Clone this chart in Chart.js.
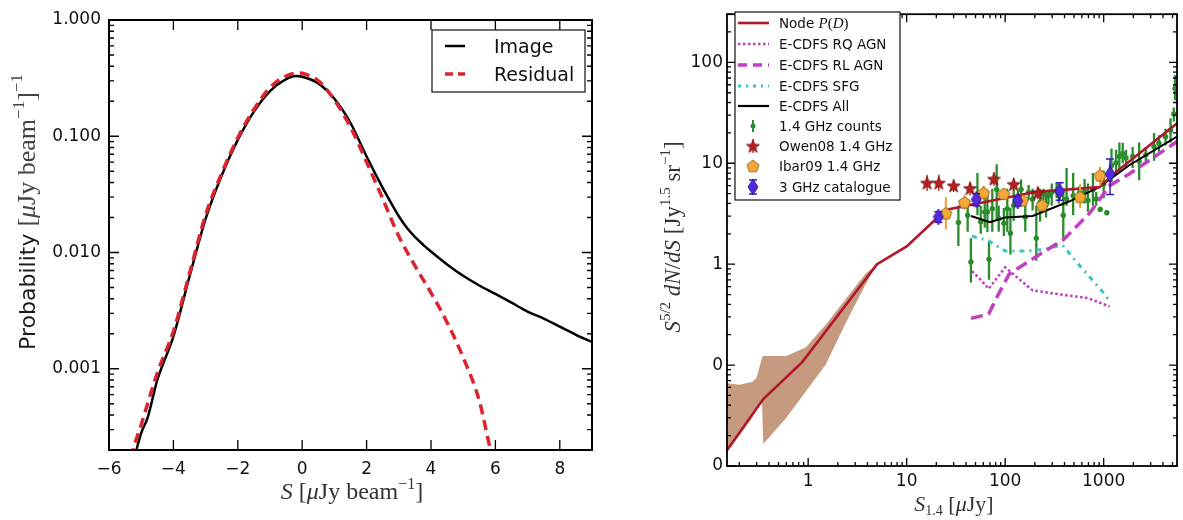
<!DOCTYPE html>
<html>
<head>
<meta charset="utf-8">
<script src="https://cdn.jsdelivr.net/npm/chart.js@4.4.1/dist/chart.umd.min.js"></script>
<style>
  body { margin: 0; background: #fff; width: 1183px; height: 520px; position: relative; overflow: hidden; }
  #left { position: absolute; left: 0; top: 0; }
  #right { position: absolute; left: 600px; top: 0; }
</style>
</head>
<body>
<canvas id="left" width="600" height="520"></canvas>
<canvas id="right" width="583" height="520"></canvas>
<script>
// ---------- left panel: P(D) of image and residual ----------
const leftXTicks = [-6, -4, -2, 0, 2, 4, 6, 8];
const leftYTicks = [0.001, 0.01, 0.1, 1];

const imgS = [-5.25, -5.15, -5.0, -4.8, -4.5, -4.0, -3.5, -3.0, -2.5, -2.0, -1.5, -1.0, -0.5, -0.2, 0.0, 0.5, 1.0, 1.5, 2.0, 2.5, 2.75, 3.0, 3.25, 3.5, 3.75, 4.0, 4.5, 5.0, 5.5, 6.0, 6.5, 7.0, 7.5, 8.0, 8.3, 8.6, 9.0];
const imgP = [0.00016, 0.0002, 0.00028, 0.00038, 0.0008, 0.0019, 0.0062, 0.0195, 0.046, 0.093, 0.163, 0.245, 0.31, 0.33, 0.325, 0.285, 0.21, 0.13, 0.067, 0.036, 0.027, 0.0205, 0.0163, 0.0136, 0.0117, 0.0102, 0.0079, 0.0063, 0.0052, 0.0044, 0.0037, 0.0031, 0.0027, 0.0023, 0.0021, 0.0019, 0.0017];

const resS = [-5.3, -5.25, -5.0, -4.5, -4.0, -3.5, -3.0, -2.5, -2.0, -1.5, -1.0, -0.5, -0.1, 0.0, 0.5, 1.0, 1.5, 2.0, 2.5, 3.0, 3.5, 4.0, 4.5, 5.0, 5.5, 5.85, 5.9];
const resP = [0.00017, 0.0002, 0.00033, 0.00092, 0.0021, 0.0066, 0.021, 0.048, 0.097, 0.17, 0.262, 0.33, 0.35, 0.348, 0.30, 0.205, 0.12, 0.060, 0.029, 0.0138, 0.0077, 0.0045, 0.0025, 0.00125, 0.00053, 0.0002, 0.00018];

// ---------- right panel: Euclidean-normalised source counts ----------
const rightXTicks = [1, 10, 100, 1000];
const rightYTicks = [0.01, 0.1, 1, 10, 100];
const rightYLabels = ['0', '0', '1', '10', '100'];

const nodeS = [0.15, 0.35, 0.87, 5.0, 10, 21, 27, 200, 900, 1300, 5600];
const nodeV = [0.0143, 0.046, 0.107, 1.0, 1.5, 2.95, 3.5, 5.2, 5.8, 8.0, 25];

const bandS  = [0.15, 0.2, 0.27, 0.3, 0.34, 0.35, 0.6, 0.95, 1.5, 2.4, 3.8, 5.0];
const bandHi = [0.066, 0.064, 0.068, 0.075, 0.118, 0.123, 0.123, 0.15, 0.25, 0.45, 0.80, 1.0];
const bandLo = [0.0138, 0.020, 0.030, 0.036, 0.043, 0.0165, 0.030, 0.055, 0.10, 0.26, 0.62, 1.0];

const rqS = [46, 55, 68, 80, 100, 130, 190, 370, 700, 1150];
const rqV = [0.85, 0.72, 0.57, 0.70, 0.93, 0.75, 0.55, 0.50, 0.46, 0.38];
const rlS = [45, 68, 85, 110, 210, 390, 720, 1150, 1800, 5600];
const rlV = [0.29, 0.32, 0.5, 0.8, 1.2, 1.75, 3.2, 6.0, 7.8, 16.5];
const sfgS = [46, 68, 100, 160, 250, 380, 580, 950, 1150];
const sfgV = [1.9, 1.7, 1.35, 1.35, 1.4, 1.55, 0.95, 0.55, 0.43];
const allS = [45, 70, 100, 190, 450, 900, 1800, 5600];
const allV = [3.0, 2.6, 2.9, 3.0, 4.2, 5.8, 9.5, 18.5];

const countsS  = [33.5, 41.6, 44.9, 52.3, 56.5, 62, 66, 68.5, 74, 82, 86, 97, 105, 113, 122, 135, 145, 160, 173, 190, 207, 226, 245, 260, 275, 297, 333, 350, 389, 420, 490, 571, 640, 693, 778, 840, 922, 1000, 1076, 1200, 1336, 1443, 1560, 1686, 1967, 2292, 2678, 3245, 3641, 4248, 4770, 5150, 5300];
const countsV  = [2.59, 3.05, 1.05, 4.1, 2.63, 3.29, 3.29, 1.12, 3.55, 5.5, 2.84, 2.54, 3.55, 2.03, 3.82, 4.6, 5.5, 2.94, 5.15, 4.4, 1.81, 4.1, 4.96, 3.9, 4.77, 5.15, 5.35, 4.9, 3.05, 4.43, 4.77, 5.15, 5.2, 4.28, 5.5, 4.43, 3.49, 6.2, 3.24, 9.5, 10.1, 11.7, 12.5, 11.3, 11.7, 10.5, 12.1, 14.6, 15.8, 18.3, 21.2, 30.8, 55];
const countsLo = [1.51, 2.1, 0.66, 3.05, 2.0, 2.3, 2.08, 0.7, 2.1, 2.7, 2.1, 1.9, 2.1, 1.25, 2.7, 3.9, 3.8, 2.1, 4.3, 3.4, 1.08, 2.63, 4.3, 2.9, 3.9, 3.8, 4.5, 4.0, 1.7, 3.8, 3.05, 4.4, 4.0, 3.3, 3.8, 3.8, 3.3, 4.5, 3.05, 6.5, 7.7, 8.7, 10, 9.0, 9.0, 6.8, 10.5, 10.6, 13, 15, 16, 26, 42];
const countsHi = [3.82, 4.4, 1.81, 8.0, 3.8, 4.6, 4.9, 1.7, 5.6, 9.8, 3.8, 3.6, 5.6, 3.6, 5.5, 5.4, 6.9, 3.8, 6.1, 5.6, 3.8, 5.6, 5.6, 5.3, 5.5, 6.3, 6.4, 6.2, 5.5, 9.0, 8.0, 6.0, 7.0, 6.3, 8.0, 5.2, 3.7, 8.5, 3.45, 14, 13.6, 16.1, 16, 13.5, 14.5, 16.1, 14.5, 20, 19, 22, 28, 35.7, 75];

const owenS  = [16.1, 21.2, 30, 44, 77, 122, 215];
const owenV  = [6.4, 6.4, 6.0, 5.65, 7.0, 6.2, 5.1];
const owenLo = [5.3, 5.3, 5.2, 4.8, 6.0, 5.3, 4.4];
const owenHi = [7.7, 7.7, 6.9, 6.6, 8.2, 7.2, 5.9];

const ibarS  = [25, 38.7, 60.5, 96.6, 150, 237, 577, 918];
const ibarV  = [3.2, 4.1, 5.1, 5.0, 4.3, 3.85, 4.65, 7.6];
const ibarLo = [2.2, 3.5, 4.3, 4.5, 3.9, 3.5, 3.6, 6.0];
const ibarHi = [4.6, 4.9, 6.0, 5.6, 4.8, 4.3, 6.2, 9.3];

const ghz3S  = [21, 50.8, 134, 357, 1160];
const ghz3V  = [2.94, 4.37, 4.23, 5.28, 7.8];
const ghz3Lo = [2.6, 3.8, 3.8, 4.3, 4.9];
const ghz3Hi = [3.3, 5.0, 4.7, 6.4, 11];

// ---------- shared styling ----------
const SANS = '"DejaVu Sans", sans-serif';
const SERIF = '"Liberation Serif", "DejaVu Serif", serif';
const RED = '#dc2430';
const NODE = '#b0162c';
const MAG = '#c23ec2';
const CYAN = '#3cc4c4';
const GREEN = '#2a8c2a';
const BAND = '#c69a7e';

const zip = (xs, ys) => xs.map((x, i) => ({ x, y: ys[i] }));

function markerCanvas(w, h, draw) {
  const c = document.createElement('canvas');
  c.width = w; c.height = h;
  draw(c.getContext('2d'), w, h);
  return c;
}

const starImg = markerCanvas(15, 15, (g, w, h) => {
  g.beginPath();
  for (let i = 0; i < 10; i++) {
    const r = i % 2 ? 2.9 : 6.9;
    const a = -Math.PI / 2 + i * Math.PI / 5;
    g.lineTo(w / 2 + r * Math.cos(a), h / 2 + 0.7 + r * Math.sin(a));
  }
  g.closePath();
  g.fillStyle = '#b81f1f'; g.fill();
  g.strokeStyle = '#6e0c0c'; g.lineWidth = 0.8; g.stroke();
});

const pentImg = markerCanvas(15, 15, (g, w, h) => {
  g.beginPath();
  for (let i = 0; i < 5; i++) {
    const a = -Math.PI / 2 + i * 2 * Math.PI / 5;
    g.lineTo(w / 2 + 6.3 * Math.cos(a), h / 2 + 0.6 + 6.3 * Math.sin(a));
  }
  g.closePath();
  g.fillStyle = '#f5a836'; g.fill();
  g.strokeStyle = '#7a5212'; g.lineWidth = 0.8; g.stroke();
});

const diamImg = markerCanvas(12, 18, (g, w, h) => {
  g.beginPath();
  g.moveTo(w / 2, 1); g.lineTo(w - 1, h / 2); g.lineTo(w / 2, h - 1); g.lineTo(1, h / 2);
  g.closePath();
  g.fillStyle = '#5427e0'; g.fill();
  g.strokeStyle = '#250c88'; g.lineWidth = 0.8; g.stroke();
});

function logMinors(min, max) {
  const out = [];
  for (let d = Math.floor(Math.log10(min)); d <= Math.ceil(Math.log10(max)); d++) {
    for (let m = 2; m <= 9; m++) {
      const v = m * Math.pow(10, d);
      if (v >= min && v <= max) out.push(v);
    }
  }
  return out;
}

function drawRich(ctx, segs, x, y, angle, align, color) {
  ctx.save();
  ctx.translate(x, y);
  ctx.rotate(angle);
  ctx.textBaseline = 'alphabetic';
  ctx.textAlign = 'left';
  let w = 0;
  segs.forEach(s => { ctx.font = s.f; w += ctx.measureText(s.t).width; });
  let cx = align === 'center' ? -w / 2 : 0;
  segs.forEach(s => {
    ctx.font = s.f;
    ctx.fillStyle = s.c || color;
    ctx.fillText(s.t, cx, s.dy || 0);
    cx += ctx.measureText(s.t).width;
  });
  ctx.restore();
}

// inward ticks on all four sides, frame, error bars, titles and legend
function makeOverlay(cfg) {
  return {
    id: 'overlay',
    beforeDatasetDraw(chart, args) {
      const ds = chart.data.datasets[args.index];
      if (!ds.errLo) return;
      const { ctx, chartArea: a, scales: { x, y } } = chart;
      ctx.save();
      ctx.beginPath(); ctx.rect(a.left, a.top, a.width, a.height); ctx.clip();
      ctx.strokeStyle = ds.errColor;
      ctx.lineWidth = ds.errWidth;
      ds.data.forEach((p, i) => {
        const px = x.getPixelForValue(p.x);
        const y0 = y.getPixelForValue(ds.errLo[i]);
        const y1 = y.getPixelForValue(ds.errHi[i]);
        ctx.beginPath(); ctx.moveTo(px, y0); ctx.lineTo(px, y1); ctx.stroke();
        if (ds.capWidth) {
          ctx.beginPath();
          ctx.moveTo(px - ds.capWidth / 2, y0); ctx.lineTo(px + ds.capWidth / 2, y0);
          ctx.moveTo(px - ds.capWidth / 2, y1); ctx.lineTo(px + ds.capWidth / 2, y1);
          ctx.stroke();
        }
      });
      ctx.restore();
    },
    afterDraw(chart) {
      const { ctx, chartArea: a, scales: { x, y } } = chart;
      ctx.save();
      ctx.strokeStyle = '#000';
      ctx.lineWidth = 1.3;
      const xt = (v, len) => {
        const px = x.getPixelForValue(v);
        ctx.beginPath();
        ctx.moveTo(px, a.bottom); ctx.lineTo(px, a.bottom - len);
        ctx.moveTo(px, a.top); ctx.lineTo(px, a.top + len);
        ctx.stroke();
      };
      const yt = (v, len) => {
        const py = y.getPixelForValue(v);
        ctx.beginPath();
        ctx.moveTo(a.left, py); ctx.lineTo(a.left + len, py);
        ctx.moveTo(a.right, py); ctx.lineTo(a.right - len, py);
        ctx.stroke();
      };
      cfg.xMajor.forEach(v => xt(v, cfg.major));
      cfg.yMajor.forEach(v => yt(v, cfg.major));
      if (cfg.xLog) logMinors(x.min, x.max).forEach(v => xt(v, cfg.minor));
      if (cfg.yLog) logMinors(y.min, y.max).forEach(v => yt(v, cfg.minor));
      ctx.lineWidth = cfg.frame;
      ctx.strokeRect(a.left, a.top, a.width, a.height);

      cfg.titles.forEach(t => drawRich(ctx, t.segs, t.x, t.y, t.angle, 'center', t.color));

      const L = cfg.legend;
      ctx.fillStyle = '#fff';
      ctx.fillRect(L.box[0], L.box[1], L.box[2], L.box[3]);
      ctx.strokeStyle = '#222';
      ctx.lineWidth = 1.3;
      ctx.strokeRect(L.box[0], L.box[1], L.box[2], L.box[3]);
      L.items.forEach((it, i) => {
        const ry = L.rows[i];
        if (it.line) {
          ctx.save();
          ctx.strokeStyle = it.line.color;
          ctx.lineWidth = it.line.width;
          ctx.setLineDash(it.line.dash || []);
          ctx.beginPath(); ctx.moveTo(L.sample[0], ry); ctx.lineTo(L.sample[1], ry); ctx.stroke();
          ctx.restore();
        }
        if (it.err) {
          ctx.save();
          ctx.strokeStyle = it.err.color;
          ctx.lineWidth = it.err.width;
          ctx.beginPath(); ctx.moveTo(L.mark, ry - it.err.h); ctx.lineTo(L.mark, ry + it.err.h); ctx.stroke();
          if (it.err.cap) {
            ctx.beginPath();
            ctx.moveTo(L.mark - it.err.cap / 2, ry - it.err.h); ctx.lineTo(L.mark + it.err.cap / 2, ry - it.err.h);
            ctx.moveTo(L.mark - it.err.cap / 2, ry + it.err.h); ctx.lineTo(L.mark + it.err.cap / 2, ry + it.err.h);
            ctx.stroke();
          }
          ctx.restore();
        }
        if (it.img) ctx.drawImage(it.img, L.mark - it.img.width / 2, ry - it.img.height / 2);
        if (it.dot) {
          ctx.fillStyle = it.dot;
          ctx.beginPath(); ctx.arc(L.mark, ry, 2.5, 0, Math.PI * 2); ctx.fill();
        }
        drawRich(ctx, it.segs, L.text, ry + L.base, 0, 'left', '#111');
      });
      ctx.restore();
    }
  };
}

const axisFont = { family: SANS, size: 17 };

// ---------- left chart ----------
new Chart(document.getElementById('left'), {
  type: 'line',
  data: {
    datasets: [
      { label: 'Residual', data: zip(resS, resP), borderColor: RED, borderWidth: 3.5, borderDash: [10, 6], order: 1, clip: 0 },
      { label: 'Image', data: zip(imgS, imgP), borderColor: '#000', borderWidth: 2.5, order: 2, clip: 0 }
    ]
  },
  options: {
    responsive: false, animation: false, devicePixelRatio: 1,
    layout: { padding: { left: 0, right: 8, top: 20, bottom: 0 } },
    elements: { point: { radius: 0 }, line: { cubicInterpolationMode: 'monotone' } },
    plugins: { legend: { display: false }, tooltip: { enabled: false } },
    scales: {
      x: {
        type: 'linear', min: -6, max: 9,
        afterBuildTicks: s => { s.ticks = leftXTicks.map(v => ({ value: v })); },
        afterFit: s => { s.height = 70; },
        grid: { display: false, drawTicks: false }, border: { display: false },
        ticks: { font: axisFont, color: '#111', padding: 9, autoSkip: false, maxRotation: 0,
          callback: v => (v < 0 ? '\u2212' + Math.abs(v) : String(v)) }
      },
      y: {
        type: 'logarithmic', min: 0.0002, max: 1,
        afterBuildTicks: s => { s.ticks = leftYTicks.map(v => ({ value: v })); },
        afterFit: s => { s.width = 109; },
        grid: { display: false, drawTicks: false }, border: { display: false },
        ticks: { font: axisFont, color: '#111', padding: 8, autoSkip: false, callback: v => v.toFixed(3) }
      }
    }
  },
  plugins: [makeOverlay({
    xMajor: leftXTicks, yMajor: leftYTicks, xLog: false, yLog: true, major: 10, minor: 5, frame: 2,
    titles: [
      { x: 35, y: 212, angle: -Math.PI / 2, color: '#444', segs: [
        { t: 'Probability ', f: `22px ${SANS}`, c: '#1a1a1a' },
        { t: '[', f: `26px ${SERIF}` },
        { t: '\u03bc', f: `italic 26px ${SERIF}` },
        { t: 'Jy beam', f: `26px ${SERIF}` },
        { t: '\u22121', f: `17px ${SERIF}`, dy: -11 },
        { t: ']', f: `26px ${SERIF}` },
        { t: '\u22121', f: `17px ${SERIF}`, dy: -13 }
      ] },
      { x: 352, y: 499, angle: 0, color: '#333', segs: [
        { t: 'S', f: `italic 24px ${SERIF}` },
        { t: ' [', f: `24px ${SERIF}` },
        { t: '\u03bc', f: `italic 24px ${SERIF}` },
        { t: 'Jy beam', f: `24px ${SERIF}` },
        { t: '\u22121', f: `16px ${SERIF}`, dy: -10 },
        { t: ']', f: `24px ${SERIF}` }
      ] }
    ],
    legend: {
      box: [432, 30, 153, 62], rows: [46, 74], sample: [445, 465], mark: 455, text: 494, base: 7,
      items: [
        { line: { color: '#000', width: 2.5 }, segs: [{ t: 'Image', f: `19px ${SANS}` }] },
        { line: { color: RED, width: 3.5, dash: [8, 5] }, segs: [{ t: 'Residual', f: `19px ${SANS}` }] }
      ]
    }
  })]
});

// ---------- right chart ----------
const lineDs = (label, xs, ys, color, width, dash, order) => ({
  label, data: zip(xs, ys), borderColor: color, borderWidth: width, borderDash: dash,
  pointRadius: 0, order, clip: 0
});
const pointDs = (label, xs, ys, lo, hi, style, extra, order) => Object.assign({
  label, data: zip(xs, ys), showLine: false, pointStyle: style, pointRadius: 5,
  errLo: lo, errHi: hi, order
}, extra);

new Chart(document.getElementById('right'), {
  type: 'line',
  data: {
    datasets: [
      { label: 'band upper', data: zip(bandS, bandHi), borderWidth: 0, pointRadius: 0, fill: '+1', backgroundColor: BAND, order: 20, clip: 0 },
      { label: 'band lower', data: zip(bandS, bandLo), borderWidth: 0, pointRadius: 0, order: 20, clip: 0 },
      pointDs('1.4 GHz counts', countsS, countsV, countsLo, countsHi, 'circle',
        { pointRadius: 2.7, backgroundColor: GREEN, borderWidth: 0, errColor: GREEN, errWidth: 2.3 }, 12),
      lineDs('E-CDFS RQ AGN', rqS, rqV, MAG, 2.6, [2.5, 2.5], 10),
      lineDs('E-CDFS RL AGN', rlS, rlV, MAG, 3.5, [12, 6], 10),
      lineDs('E-CDFS SFG', sfgS, sfgV, CYAN, 3, [5, 5, 2, 5], 10),
      lineDs('E-CDFS All', allS, allV, '#000', 2, [], 9),
      lineDs('Node P(D)', nodeS, nodeV, NODE, 2.6, [], 8),
      pointDs('Owen08 1.4 GHz', owenS, owenV, owenLo, owenHi, starImg, { errColor: '#a11a1a', errWidth: 1.3 }, 5),
      pointDs('Ibar09 1.4 GHz', ibarS, ibarV, ibarLo, ibarHi, pentImg, { errColor: '#f0a030', errWidth: 2 }, 4),
      pointDs('3 GHz catalogue', ghz3S, ghz3V, ghz3Lo, ghz3Hi, diamImg, { errColor: '#3a18b8', errWidth: 1.5, capWidth: 8 }, 3)
    ]
  },
  options: {
    responsive: false, animation: false, devicePixelRatio: 1,
    layout: { padding: { left: 0, right: 2, top: 5, bottom: 0 } },
    elements: { line: { tension: 0 } },
    plugins: { legend: { display: false }, tooltip: { enabled: false } },
    scales: {
      x: {
        type: 'logarithmic', min: 0.15, max: 5550,
        afterBuildTicks: s => { s.ticks = rightXTicks.map(v => ({ value: v })); },
        afterFit: s => { s.height = 54; },
        grid: { display: false, drawTicks: false }, border: { display: false },
        ticks: { font: axisFont, color: '#111', padding: 5, autoSkip: false, maxRotation: 0, callback: v => String(v) }
      },
      y: {
        type: 'logarithmic', min: 0.01, max: 300,
        afterBuildTicks: s => { s.ticks = rightYTicks.map(v => ({ value: v })); },
        afterFit: s => { s.width = 127; },
        grid: { display: false, drawTicks: false }, border: { display: false },
        ticks: { font: axisFont, color: '#111', padding: 4, autoSkip: false, callback: (v, i) => rightYLabels[i] }
      }
    }
  },
  plugins: [makeOverlay({
    xMajor: rightXTicks, yMajor: rightYTicks, xLog: true, yLog: true, major: 8, minor: 4, frame: 1.8,
    titles: [
      { x: 80, y: 237, angle: -Math.PI / 2, color: '#333', segs: [
        { t: 'S', f: `italic 23px ${SERIF}` },
        { t: '5/2', f: `15px ${SERIF}`, dy: -10 },
        { t: ' dN', f: `italic 23px ${SERIF}` },
        { t: '/', f: `23px ${SERIF}` },
        { t: 'dS', f: `italic 23px ${SERIF}` },
        { t: ' [Jy', f: `23px ${SERIF}` },
        { t: '1.5', f: `15px ${SERIF}`, dy: -10 },
        { t: ' sr', f: `23px ${SERIF}` },
        { t: '\u22121', f: `15px ${SERIF}`, dy: -10 },
        { t: ']', f: `23px ${SERIF}` }
      ] },
      { x: 354, y: 511, angle: 0, color: '#333', segs: [
        { t: 'S', f: `italic 22px ${SERIF}` },
        { t: '1.4', f: `14px ${SERIF}`, dy: 4 },
        { t: ' [', f: `22px ${SERIF}` },
        { t: '\u03bc', f: `italic 22px ${SERIF}` },
        { t: 'Jy]', f: `22px ${SERIF}` }
      ] }
    ],
    legend: {
      box: [135, 12, 165, 188], rows: [23, 44, 65, 86, 106, 126, 146, 166, 187],
      sample: [138, 169], mark: 153, text: 179, base: 5,
      items: [
        { line: { color: NODE, width: 2.6 }, segs: [
          { t: 'Node ', f: `13.5px ${SANS}` },
          { t: 'P', f: `italic 15px ${SERIF}` },
          { t: '(', f: `15px ${SERIF}` },
          { t: 'D', f: `italic 15px ${SERIF}` },
          { t: ')', f: `15px ${SERIF}` }
        ] },
        { line: { color: MAG, width: 2.6, dash: [2.5, 2.5] }, segs: [{ t: 'E-CDFS RQ AGN', f: `13.5px ${SANS}` }] },
        { line: { color: MAG, width: 3.5, dash: [9, 6] }, segs: [{ t: 'E-CDFS RL AGN', f: `13.5px ${SANS}` }] },
        { line: { color: CYAN, width: 3, dash: [3, 5, 2, 5] }, segs: [{ t: 'E-CDFS SFG', f: `13.5px ${SANS}` }] },
        { line: { color: '#000', width: 2.2 }, segs: [{ t: 'E-CDFS All', f: `13.5px ${SANS}` }] },
        { err: { color: GREEN, width: 2, h: 6 }, dot: GREEN, segs: [{ t: '1.4 GHz counts', f: `13.5px ${SANS}` }] },
        { err: { color: '#a11a1a', width: 1.3, h: 7 }, img: starImg, segs: [{ t: 'Owen08 1.4 GHz', f: `13.5px ${SANS}` }] },
        { err: { color: '#f0a030', width: 2, h: 6 }, img: pentImg, segs: [{ t: 'Ibar09 1.4 GHz', f: `13.5px ${SANS}` }] },
        { err: { color: '#3a18b8', width: 1.5, h: 7, cap: 8 }, img: diamImg, segs: [{ t: '3 GHz catalogue', f: `13.5px ${SANS}` }] }
      ]
    }
  })]
});
</script>
</body>
</html>
